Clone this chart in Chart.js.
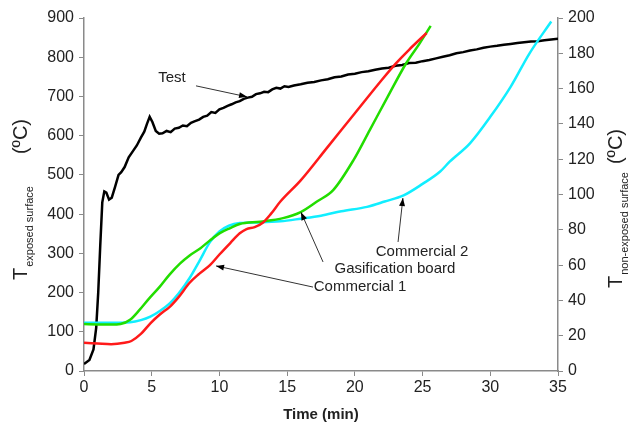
<!DOCTYPE html>
<html>
<head>
<meta charset="utf-8">
<script src="https://cdn.jsdelivr.net/npm/chart.js@4.4.0/dist/chart.umd.min.js"></script>
<style>
  html, body { margin: 0; padding: 0; background: #fff; }
</style>
</head>
<body>
<canvas id="myChart" width="632" height="423"></canvas>
<script>
// Test (exposed surface, left axis, ºC)
const testTime = [0, 0.4, 0.7, 0.9, 1.05, 1.2, 1.35, 1.5, 1.65, 1.85, 2.05, 2.3, 2.55, 2.75, 3.0, 3.3, 3.6, 3.9, 4.2, 4.45, 4.65, 4.85, 5.05, 5.3, 5.55,
  5.8, 6.1, 6.4, 6.7, 7.0, 7.3, 7.6, 7.9, 8.2, 8.5, 8.8, 9.1, 9.4, 9.7, 10.0, 10.3, 10.6, 10.9, 11.2, 11.5, 11.8, 12.1, 12.4, 12.7, 13.0, 13.3, 13.6, 13.9, 14.2, 14.5, 14.8, 15.1,
  15.5, 16.0, 16.5, 17.0, 17.5, 18.0, 18.5, 19.0, 19.5, 20.0, 20.5, 21.0, 21.5, 22.0, 22.5, 23.0, 23.5, 24.0, 24.5, 25.0, 25.5, 26.0, 26.5, 27.0, 27.5, 28.0, 28.5, 29.0, 29.5,
  30.0, 30.5, 31.0, 31.5, 32.0, 32.5, 33.0, 33.5, 34.0, 34.5, 35.0];
const testTemp = [18, 28, 55, 110, 200, 320, 430, 458, 455, 437, 442, 470, 500, 507, 520, 545, 560, 575, 595, 610, 630, 648, 635, 612, 605,
  606, 612, 609, 618, 620, 626, 624, 633, 637, 641, 648, 651, 660, 658, 667, 671, 676, 680, 685, 688, 694, 697, 699, 706, 708, 712, 711, 718, 722, 720, 726, 724,
  728, 731, 735, 737, 741, 744, 749, 751, 756, 758, 762, 764, 768, 771, 773, 778, 780, 785, 786, 790, 793, 797, 801, 805, 810, 813, 817, 820, 824,
  827, 829, 832, 834, 836, 838, 840, 841, 843, 845, 847];

// Non-exposed surface (right axis, ºC)
const com1Time = [0, 1, 2, 3, 3.5, 4.2, 4.9, 5.6, 6.35, 7, 7.8, 8.5, 9.3, 10, 10.8, 11.5, 12, 12.6, 13.2, 13.8, 14.5, 16, 18, 20, 22, 23, 24, 25.3];
const com1Temp = [16, 15.6, 15.2, 16, 17, 21, 27, 32, 36.5, 42, 50, 55, 60, 66, 72.5, 78, 80.4, 81.5, 84, 89, 96, 108, 127, 146, 165, 174, 182, 191.5];

const gasTime = [0, 1, 2, 2.7, 3.4, 4.1, 4.8, 5.6, 6.3, 7.1, 7.8, 8.6, 9.3, 10, 10.8, 11.5, 13, 14.7, 16, 17.2, 18.4, 19.9, 21.1, 22.4, 23.8, 24.8, 25.6];
const gasTemp = [26.6, 26.4, 26.3, 26.6, 29, 34.6, 41, 47.8, 54.5, 61, 65.5, 69.6, 74, 78, 81, 83.3, 84.6, 86.6, 90, 96, 102.5, 119.5, 136.5, 155, 174.5, 185.8, 195.5];

const com2Time = [0, 2, 3.4, 4.2, 4.9, 5.6, 6.35, 7, 7.8, 8.5, 9.3, 10, 10.7, 11.5, 13, 14.5, 16, 17.5, 19, 20.9, 22.2, 23.6, 25, 26.3, 27, 28.5, 30, 31.5, 32.9, 34.5];
const com2Temp = [27.4, 27.3, 27.6, 28.8, 30.8, 34, 38.5, 44, 52.7, 62, 73, 79, 82.3, 83.8, 84.2, 84.8, 86.3, 88, 90.5, 93, 96, 99.5, 106, 113, 118.6, 129, 144, 161, 180, 198];

// labels with arrows, in data units (time, left-axis ºC)
const noteText = ["Test", "Commercial 2", "Gasification board", "Commercial 1"];
const noteLabel = [[6.5, 747], [24.96, 303], [22.96, 260], [20.38, 214]];
const noteFrom = [[8.27, 727], [23.19, 329], [17.65, 278], [16.91, 214]];
const noteTip = [[12.04, 699], [23.55, 441], [16.02, 405], [9.75, 268]];

const FONT = "'Liberation Sans', Arial, sans-serif";
const AXIS = "#8a8a8a";

function pts(xs, ys) {
  return xs.map((x, i) => ({ x: x, y: ys[i] }));
}

function fitWidth(w) {
  return function (scale) { scale.width = w; };
}

const extras = {
  id: "extras",
  afterDraw(chart) {
    const ctx = chart.ctx;
    const xs = chart.scales.x;
    const yl = chart.scales.y;
    ctx.save();
    ctx.fillStyle = "#222";

    // axis titles (rotated, T + subscript + unit)
    function vtitle(x, y, sub, gap) {
      ctx.save();
      ctx.translate(x, y);
      ctx.rotate(-Math.PI / 2);
      ctx.textBaseline = "alphabetic";
      ctx.textAlign = "left";
      ctx.font = "20px " + FONT;
      ctx.fillText("T", 0, 0);
      let off = ctx.measureText("T").width + 1;
      ctx.font = "11px " + FONT;
      ctx.fillText(sub, off, 6);
      off += ctx.measureText(sub).width + gap;
      ctx.font = "20px " + FONT;
      ctx.fillText("(\u00baC)", off, 0);
      ctx.restore();
    }
    vtitle(27, 280, "exposed surface", 32);
    vtitle(622, 288, "non-exposed surface", 8);

    ctx.font = "bold 15px " + FONT;
    ctx.textAlign = "center";
    ctx.textBaseline = "middle";
    ctx.fillText("Time (min)", (chart.chartArea.left + chart.chartArea.right) / 2, 415);

    // annotations
    ctx.font = "15px " + FONT;
    ctx.strokeStyle = "#333";
    ctx.lineWidth = 1;
    for (let i = 0; i < noteText.length; i++) {
      const lx = xs.getPixelForValue(noteLabel[i][0]);
      const ly = yl.getPixelForValue(noteLabel[i][1]);
      ctx.fillStyle = "#222";
      ctx.fillText(noteText[i], lx, ly);
      const fx = xs.getPixelForValue(noteFrom[i][0]);
      const fy = yl.getPixelForValue(noteFrom[i][1]);
      const tx = xs.getPixelForValue(noteTip[i][0]);
      const ty = yl.getPixelForValue(noteTip[i][1]);
      ctx.beginPath();
      ctx.moveTo(fx, fy);
      ctx.lineTo(tx, ty);
      ctx.stroke();
      const a = Math.atan2(ty - fy, tx - fx);
      ctx.beginPath();
      ctx.moveTo(tx, ty);
      ctx.lineTo(tx - 8 * Math.cos(a) + 3 * Math.sin(a), ty - 8 * Math.sin(a) - 3 * Math.cos(a));
      ctx.lineTo(tx - 8 * Math.cos(a) - 3 * Math.sin(a), ty - 8 * Math.sin(a) + 3 * Math.cos(a));
      ctx.closePath();
      ctx.fillStyle = "#000";
      ctx.fill();
    }
    ctx.restore();
  },
};

const tickFont = { family: FONT, size: 16 };

new Chart(document.getElementById("myChart"), {
  type: "line",
  data: {
    datasets: [
      { label: "Commercial 1", data: pts(com1Time, com1Temp), yAxisID: "y2", borderColor: "#ff1a1a", cubicInterpolationMode: "monotone" },
      { label: "Gasification board", data: pts(gasTime, gasTemp), yAxisID: "y2", borderColor: "#22dd00", cubicInterpolationMode: "monotone" },
      { label: "Commercial 2", data: pts(com2Time, com2Temp), yAxisID: "y2", borderColor: "#11eeff", cubicInterpolationMode: "monotone" },
      { label: "Test", data: pts(testTime, testTemp), yAxisID: "y", borderColor: "#000", tension: 0 },
    ],
  },
  options: {
    responsive: false,
    animation: false,
    events: [],
    layout: { padding: { top: 18, left: 0, right: 0, bottom: 0 } },
    elements: { point: { radius: 0 }, line: { borderWidth: 2.5, fill: false } },
    plugins: { legend: { display: false }, tooltip: { enabled: false } },
    scales: {
      x: {
        type: "linear",
        min: 0,
        max: 35,
        afterFit: function (s) { s.height = 52; },
        border: { color: AXIS, width: 1.5 },
        grid: { drawOnChartArea: false, color: AXIS, tickLength: 5 },
        ticks: { stepSize: 5, autoSkip: false, maxRotation: 0, padding: 2, color: "#222", font: tickFont },
      },
      y: {
        position: "left",
        min: 0,
        max: 900,
        afterFit: fitWidth(84),
        border: { color: AXIS, width: 1.5 },
        grid: { drawOnChartArea: false, color: AXIS, tickLength: 5 },
        ticks: { stepSize: 100, autoSkip: false, padding: 5, color: "#222", font: tickFont },
      },
      y2: {
        position: "right",
        min: 0,
        max: 200,
        afterFit: fitWidth(74),
        border: { color: AXIS, width: 1.5 },
        grid: { drawOnChartArea: false, color: AXIS, tickLength: 5 },
        ticks: { stepSize: 20, autoSkip: false, padding: 5, color: "#222", font: tickFont },
      },
    },
  },
  plugins: [extras],
});
</script>
</body>
</html>
